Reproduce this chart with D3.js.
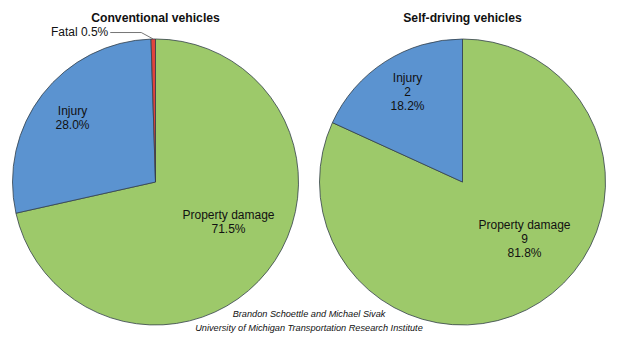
<!DOCTYPE html>
<html>
<head>
<meta charset="utf-8">
<script src="https://cdn.jsdelivr.net/npm/d3@7"></script>
<style>
  html, body { margin: 0; padding: 0; background: #fff; }
  svg { display: block; font-family: "Liberation Sans", Arial, Helvetica, sans-serif; }
</style>
</head>
<body>
<svg id="chart" width="620" height="342"></svg>
<script>
// ---- data ----
const chartTitles = ["Conventional vehicles", "Self-driving vehicles"];
const conventionalCategories = ["Property damage", "Injury", "Fatal"];
const conventionalPercents = [71.5, 28.0, 0.5];
const selfDrivingCategories = ["Property damage", "Injury"];
const selfDrivingCounts = [9, 2];
const selfDrivingPercents = [81.8, 18.2];
const creditLines = ["Brandon Schoettle and Michael Sivak",
                     "University of Michigan Transportation Research Institute"];

// ---- styling / layout ----
const colors = { "Property damage": "#9dc96a", "Injury": "#5b93d0", "Fatal": "#e0443c" };
const R = 143;
const centers = [[155.5, 182], [462.5, 182]];
// label offsets relative to pie center (by category)
const convLabelPos = { "Property damage": [73, 40], "Injury": [-83, -64] };
const selfLabelPos = { "Property damage": [62, 57], "Injury": [-55, -90] };

const svg = d3.select("#chart");
const pie = d3.pie().sort(null).value(d => d.value);
const arc = d3.arc().innerRadius(0).outerRadius(R);

function drawPie(cx, cy, rows) {
  const g = svg.append("g").attr("transform", `translate(${cx},${cy})`);
  const arcs = pie(rows);
  g.selectAll("path").data(arcs).join("path")
    .attr("d", arc)
    .attr("fill", d => colors[d.data.cat])
    .attr("stroke", "#34404a")
    .attr("stroke-width", 0.8)
    .attr("stroke-linejoin", "round");
  return { g, arcs };
}

function drawLabel(g, pos, lines) {
  const lh = 14;
  const t = g.append("text")
    .attr("text-anchor", "middle")
    .attr("font-size", 12)
    .attr("fill", "#111");
  const n = lines.length;
  lines.forEach((s, i) => {
    t.append("tspan")
      .attr("x", pos[0])
      .attr("y", pos[1] + (i - (n - 1) / 2) * lh + 4)
      .text(s);
  });
}

// Conventional
const convRows = conventionalCategories.map((c, i) => ({ cat: c, value: conventionalPercents[i] }));
const left = drawPie(centers[0][0], centers[0][1], convRows);
left.arcs.forEach(a => {
  const label = a.data.cat + "";
  if (convLabelPos[a.data.cat]) {
    drawLabel(left.g, convLabelPos[a.data.cat], [a.data.cat, a.data.value.toFixed(1) + "%"]);
  } else {
    // leader line for small slice
    const mid = (a.startAngle + a.endAngle) / 2;
    const ex = Math.sin(mid) * R, ey = -Math.cos(mid) * R;
    const p = d3.path();
    p.moveTo(ex, ey);
    p.lineTo(ex - 12, ey - 6.5);
    p.lineTo(ex - 43, ey - 6.5);
    left.g.append("path").attr("d", p.toString())
      .attr("fill", "none").attr("stroke", "#666").attr("stroke-width", 0.9);
    left.g.append("text")
      .attr("x", ex - 45).attr("y", ey - 3)
      .attr("text-anchor", "end")
      .attr("font-size", 12).attr("fill", "#111")
      .text(a.data.cat + " " + a.data.value.toFixed(1) + "%");
  }
});

// Self-driving
const selfRows = selfDrivingCategories.map((c, i) => ({ cat: c, value: selfDrivingCounts[i], pct: selfDrivingPercents[i] }));
const right = drawPie(centers[1][0], centers[1][1], selfRows);
right.arcs.forEach(a => {
  drawLabel(right.g, selfLabelPos[a.data.cat], [a.data.cat, String(a.data.value), a.data.pct.toFixed(1) + "%"]);
});

// Titles
chartTitles.forEach((t, i) => {
  svg.append("text")
    .attr("x", centers[i][0]).attr("y", 22)
    .attr("text-anchor", "middle")
    .attr("font-size", 12.2).attr("font-weight", "bold").attr("fill", "#111")
    .text(t);
});

// Credits
creditLines.forEach((t, i) => {
  svg.append("text")
    .attr("x", 309).attr("y", 317 + i * 14)
    .attr("text-anchor", "middle")
    .attr("font-size", 9.2).attr("font-style", "italic").attr("fill", "#111")
    .text(t);
});
</script>
</body>
</html>
